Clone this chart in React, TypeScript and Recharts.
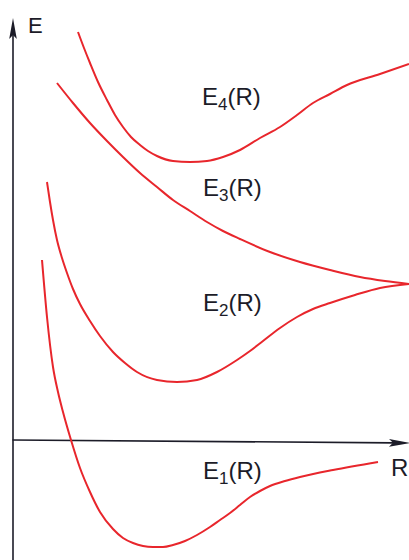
import React from 'react';
import { LineChart, Line, XAxis, YAxis, ReferenceLine, ReferenceDot } from 'recharts';

// potential energy curves E_n(R), R and E in arbitrary units
const e1 = [
  { R: 2.8, E: 18.1 }, { R: 3.3, E: 12.4 }, { R: 3.9, E: 7.4 }, { R: 4.4, E: 4.9 },
  { R: 4.9, E: 2.9 }, { R: 5.7, E: 0.1 }, { R: 6.6, E: -2.7 }, { R: 7.6, E: -5.1 },
  { R: 8.6, E: -7.1 }, { R: 9.9, E: -8.8 }, { R: 10.9, E: -9.7 }, { R: 11.9, E: -10.2 },
  { R: 12.9, E: -10.5 }, { R: 13.9, E: -10.6 }, { R: 14.9, E: -10.6 }, { R: 15.9, E: -10.4 },
  { R: 17.1, E: -10.0 }, { R: 18.3, E: -9.4 }, { R: 19.6, E: -8.6 }, { R: 20.6, E: -7.9 },
  { R: 21.6, E: -7.2 }, { R: 22.6, E: -6.4 }, { R: 23.6, E: -5.6 }, { R: 24.6, E: -5.0 },
  { R: 25.6, E: -4.5 }, { R: 27.1, E: -4.0 }, { R: 28.6, E: -3.6 }, { R: 31.9, E: -2.9 },
  { R: 36.4, E: -2.1 },
];
const e2 = [
  { R: 3.3, E: 25.9 }, { R: 3.6, E: 23.9 }, { R: 3.9, E: 22.1 }, { R: 4.3, E: 20.1 },
  { R: 4.8, E: 18.3 }, { R: 5.3, E: 16.8 }, { R: 5.9, E: 15.2 }, { R: 6.6, E: 13.7 },
  { R: 7.6, E: 12.0 }, { R: 8.6, E: 10.5 }, { R: 9.9, E: 8.9 }, { R: 11.1, E: 7.8 },
  { R: 12.3, E: 6.9 }, { R: 14.3, E: 6.1 }, { R: 16.3, E: 5.9 }, { R: 18.3, E: 6.1 },
  { R: 20.3, E: 6.9 }, { R: 22.3, E: 8.1 }, { R: 23.6, E: 9.0 }, { R: 24.9, E: 10.0 },
  { R: 26.6, E: 11.3 }, { R: 28.3, E: 12.4 }, { R: 29.9, E: 13.2 }, { R: 31.6, E: 13.8 },
  { R: 34.1, E: 14.6 }, { R: 36.6, E: 15.3 }, { R: 39.5, E: 15.7 },
];
const e3 = [
  { R: 4.3, E: 35.8 }, { R: 5.9, E: 33.8 }, { R: 7.6, E: 31.8 }, { R: 9.3, E: 30.0 },
  { R: 10.9, E: 28.4 }, { R: 12.6, E: 26.8 }, { R: 14.3, E: 25.4 }, { R: 15.9, E: 24.1 },
  { R: 17.6, E: 23.0 }, { R: 19.3, E: 21.9 }, { R: 20.9, E: 21.0 }, { R: 22.6, E: 20.2 },
  { R: 25.6, E: 18.9 }, { R: 28.6, E: 17.9 }, { R: 31.6, E: 17.1 }, { R: 34.6, E: 16.4 },
  { R: 37.1, E: 16.0 }, { R: 39.5, E: 15.7 },
];
const e4 = [
  { R: 6.4, E: 40.9 }, { R: 7.0, E: 39.3 }, { R: 7.6, E: 37.8 }, { R: 8.4, E: 35.9 },
  { R: 9.3, E: 34.1 }, { R: 10.1, E: 32.6 }, { R: 10.9, E: 31.4 }, { R: 11.7, E: 30.4 },
  { R: 12.6, E: 29.6 }, { R: 13.4, E: 29.0 }, { R: 14.3, E: 28.5 }, { R: 15.9, E: 28.0 },
  { R: 17.6, E: 27.9 }, { R: 19.3, E: 28.0 }, { R: 20.9, E: 28.4 }, { R: 22.6, E: 29.1 },
  { R: 24.6, E: 30.3 }, { R: 26.6, E: 31.4 }, { R: 28.3, E: 32.6 }, { R: 29.9, E: 33.8 },
  { R: 31.6, E: 34.7 }, { R: 33.3, E: 35.6 }, { R: 36.6, E: 36.7 }, { R: 39.5, E: 37.7 },
];

const curves = [e1, e2, e3, e4];
const curveKeys = ['e1', 'e2', 'e3', 'e4'];
const curveNames = ['1', '2', '3', '4'];
// label anchors (left end of the text baseline)
const labelR = [18.9, 18.9, 18.9, 18.8];
const labelE = [-3.8, 13.0, 24.5, 33.6];

// one row per R value, each curve filled in only where it has a point
const rows: any[] = (() => {
  const byR = new Map<number, any>();
  curves.forEach((c, i) => {
    c.forEach((p) => {
      const row = byR.get(p.R) || { R: p.R };
      row[curveKeys[i]] = p.E;
      byR.set(p.R, row);
    });
  });
  return Array.from(byR.values()).sort((a, b) => a.R - b.R);
})();

const RED = '#e8262c';
const INK = '#1c1c28';
const FONT = '"Liberation Sans", Arial, sans-serif';

const Arrow = (props: any) => {
  const { x1, y1, x2, y2 } = props;
  const dx = x2 - x1;
  const dy = y2 - y1;
  const len = Math.sqrt(dx * dx + dy * dy) || 1;
  const ux = dx / len;
  const uy = dy / len;
  const head = 21;
  const half = 3.8;
  const bx = x2 - ux * head;
  const by = y2 - uy * head;
  const pts = `${x2},${y2} ${bx - uy * half},${by + ux * half} ${x2 - ux * (head - 4)},${y2 - uy * (head - 4)} ${bx + uy * half},${by - ux * half}`;
  return (
    <g>
      <line x1={x1} y1={y1} x2={bx + ux * 4} y2={by + uy * 4} stroke={INK} strokeWidth={1.6} />
      <polygon points={pts} fill={INK} />
    </g>
  );
};

const curveLabel = (n: string) => (props: any) => (
  <text x={props.cx} y={props.cy} fill={INK} fontFamily={FONT} fontSize={24}>
    E<tspan fontSize={17} dy={5}>{n}</tspan><tspan dy={-5}>(R)</tspan>
  </text>
);

const axisText = (t: string, size: number) => (props: any) => (
  <text x={props.cx} y={props.cy} fill={INK} fontFamily={FONT} fontSize={size}>{t}</text>
);

export default function App() {
  return (
    <div style={{ position: 'absolute', left: 0, top: 0, background: '#fff' }}>
      <LineChart width={409} height={560} data={rows} margin={{ top: 0, right: 0, bottom: 0, left: 0 }}>
        <XAxis type="number" dataKey="R" domain={[-1.4, 39.5]} hide allowDataOverflow />
        <YAxis type="number" domain={[-11.9, 44.1]} hide allowDataOverflow />
        <ReferenceLine
          segment={[{ x: -0.1, y: -11.9 }, { x: -0.1, y: 42.3 }]}
          shape={Arrow}
          ifOverflow="visible"
        />
        <ReferenceLine
          segment={[{ x: -0.15, y: 0.1 }, { x: 39.6, y: -0.2 }]}
          shape={Arrow}
          ifOverflow="visible"
        />
        {curveKeys.map((k) => (
          <Line
            key={k}
            dataKey={k}
            type="monotone"
            connectNulls
            stroke={RED}
            strokeWidth={2}
            dot={false}
            activeDot={false}
            isAnimationActive={false}
          />
        ))}
        {curveNames.map((n, i) => (
          <ReferenceDot key={'l' + n} x={labelR[i]} y={labelE[i]} r={0} shape={curveLabel(n)} ifOverflow="visible" />
        ))}
        <ReferenceDot x={1.4} y={40.8} r={0} shape={axisText('E', 22)} ifOverflow="visible" />
        <ReferenceDot x={37.7} y={-3.5} r={0} shape={axisText('R', 24)} ifOverflow="visible" />
      </LineChart>
    </div>
  );
}
